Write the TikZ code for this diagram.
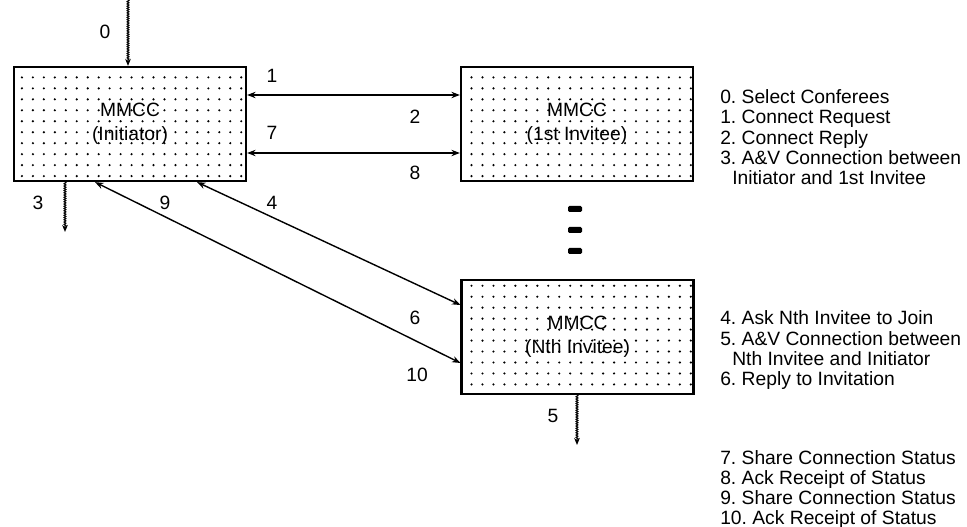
\documentclass[tikz,border=0pt]{standalone}
\usepackage{fontspec}
\setmainfont{Liberation Sans}
\usetikzlibrary{arrows.meta,patterns.meta,decorations.pathmorphing}
\frenchspacing

\begin{document}
\begin{tikzpicture}[
    every node/.style={font=\fontsize{13.7}{17}\selectfont},
    box/.style={draw, line width=1.6pt, minimum width=5.8cm, minimum height=2.85cm, align=center,
      pattern={Dots[distance=7.8pt, radius=0.85pt]}},
    msg/.style={line width=1pt, {Stealth[length=6pt, width=4.5pt]}-{Stealth[length=6pt, width=4.5pt]}},
    wavy/.style={line width=0.8pt, -{Stealth[length=5pt, width=4pt]}, decorate,
      decoration={zigzag, amplitude=0.6pt, segment length=1.6pt, post length=4pt}},
    item/.style={anchor=west, inner sep=0pt, text height=10pt, text depth=3pt}
  ]
  \useasboundingbox (0, 0) rectangle (24.175, -13.175);

  % the three conference stations
  \node[box] (init) at (3.25, -3.1) {MMCC\\(Initiator)};
  \node[box] (first) at (14.425, -3.1) {MMCC\\(1st Invitee)};
  \node[box] (nth) at (14.44, -8.425) {MMCC\\(Nth Invitee)};

  % more invitees in between
  \fill[rounded corners=1pt] (14.2, -5.15) rectangle (14.55, -5.3);
  \fill[rounded corners=1pt] (14.2, -5.675) rectangle (14.55, -5.825);
  \fill[rounded corners=1pt] (14.2, -6.2) rectangle (14.55, -6.35);

  % messages
  \draw[msg] ([yshift=0.725cm]init.east) -- ([yshift=0.725cm]first.west);
  \draw[msg] ([yshift=-0.725cm]init.east) -- ([yshift=-0.725cm]first.west);
  \draw[msg] ([xshift=1.675cm]init.south) -- ([yshift=0.8cm]nth.west);
  \draw[msg] ([xshift=-0.875cm]init.south) -- ([yshift=-0.65cm]nth.west);

  % audio and video links
  \coordinate (in0) at (3.2, 0);
  \coordinate (out3) at (1.625, -5.8);
  \coordinate (out5) at (14.425, -11.125);
  \draw[wavy] (in0) -- (in0 |- init.north);
  \draw[wavy] (out3 |- init.south) -- (out3);
  \draw[wavy] (out5 |- nth.south) -- (out5);

  \node (n0) at (2.625, -0.8) {0};
  \node (n1) at (6.8, -1.9) {1};
  \node (n2) at (10.375, -2.925) {2};
  \node (n7) at (6.8, -3.325) {7};
  \node (n8) at (10.375, -4.325) {8};
  \node (n3) at (0.95, -5.075) {3};
  \node (n9) at (4.125, -5.075) {9};
  \node (n4) at (6.8, -5.075) {4};
  \node (n6) at (10.375, -7.95) {6};
  \node (n10) at (10.425, -9.375) {10};
  \node (n5) at (13.825, -10.4) {5};

  % legend
  \node[item] (l0) at (18, -2.46) {0. Select Conferees};
  \node[item] (l1) at (18, -2.97) {1. Connect Request};
  \node[item] (l2) at (18, -3.48) {2. Connect Reply};
  \node[item] (l3) at (18, -3.99) {3. A\&V Connection between};
  \node[item] (l3b) at (18.3, -4.5) {Initiator and 1st Invitee};
  \node[item] (l4) at (18, -8.0) {4. Ask Nth Invitee to Join};
  \node[item] (l5) at (18, -8.52) {5. A\&V Connection between};
  \node[item] (l5b) at (18.3, -9.02) {Nth Invitee and Initiator};
  \node[item] (l6) at (18, -9.52) {6. Reply to Invitation};
  \node[item] (l7) at (18, -11.5) {7. Share Connection Status};
  \node[item] (l8) at (18, -12.0) {8. Ack Receipt of Status};
  \node[item] (l9) at (18, -12.5) {9. Share Connection Status};
  \node[item] (l10) at (18, -12.98) {10. Ack Receipt of Status};
\end{tikzpicture}
\end{document}
